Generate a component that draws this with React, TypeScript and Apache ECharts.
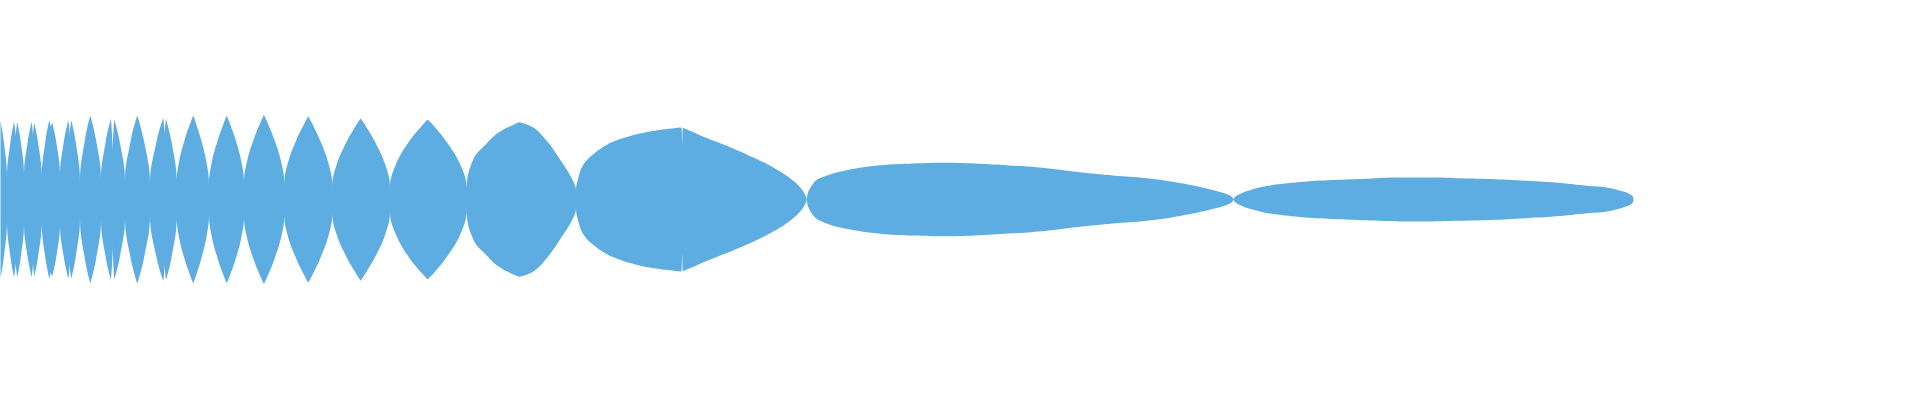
import { useEffect, useRef } from 'react';
import * as echarts from 'echarts';

const layerName = 'Flow';

// [time, value] records; several records may share one time
const headRecords: [number, number][] = [
  [0.25, 92.5], [1.875, 69.1],
  [3.5, 25.5], [3.5, 23.5], [3.5, 25.5],
  [5.25, 68.4],
  [7, 91.5], [7, 91.2], [7, 91.5],
  [7.85, 73.6], [7.85, 71.6], [7.85, 73.6],
  [8.65, 91.5], [8.65, 91.2], [8.65, 91.5],
  [10.325, 69.4],
  [12, 28.3], [12, 26.3], [12, 28.3],
  [13.925, 69.4],
  [15.85, 91.5], [15.85, 91.2], [15.85, 91.5],
  [16.5, 73.6], [16.5, 71.6], [16.5, 73.6],
  [17.15, 90.6], [17.15, 90.3], [17.15, 90.6],
  [19, 68.1],
  [20.85, 26.4], [20.85, 24.4], [20.85, 26.4],
  [22.75, 70.0],
  [24.65, 93.4], [24.65, 93.1], [24.65, 93.4],
  [25.35, 84.9], [25.35, 82.9], [25.35, 84.9],
  [26.15, 90.6], [26.15, 90.3], [26.15, 90.6],
  [28.075, 68.8],
  [30, 28.3], [30, 26.3], [30, 28.3],
  [32.075, 70.6],
  [34.15, 93.4], [34.15, 93.1], [34.15, 93.4],
  [34.85, 75.5], [34.85, 73.5], [34.85, 75.5],
  [35.65, 93.4], [35.65, 93.1], [35.65, 93.4],
  [37.825, 68.3],
  [40, 21.7], [40, 19.7], [40, 21.7],
  [42.575, 72.0],
  [45.15, 99.1], [45.15, 98.8], [45.15, 99.1],
  [47.825, 72.7],
  [50.5, 23.6], [50.5, 21.6], [50.5, 23.6],
  [53, 70.2],
  [55.5, 95.3], [55.5, 95.0], [55.5, 95.3],
  [56.35, 53.8], [56.35, 51.8], [56.35, 53.8],
  [57.15, 94.3], [57.15, 94.0], [57.15, 94.3],
  [59.825, 68.9],
  [62.5, 21.7], [62.5, 19.7], [62.5, 21.7],
  [65.575, 72.0],
  [68.65, 99.1], [68.65, 98.8], [68.65, 99.1],
  [71.825, 71.0],
  [75, 18.9], [75, 16.9], [75, 18.9],
  [78.325, 69.1],
  [81.65, 96.2], [81.65, 95.9], [81.65, 96.2],
  [82.35, 75.5], [82.35, 73.5], [82.35, 75.5],
  [83, 95.3], [83, 95.0], [83, 95.3],
  [85.675, 69.2],
  [88.35, 20.8], [88.35, 18.8], [88.35, 20.8],
];

const midRecords: [number, number][] = [
  [89.65, 45.9], [92.5, 71.7], [95.35, 91.3],
  [96.65, 99.1], [96.65, 98.8], [96.65, 99.1],
  [97.85, 90.9], [100.575, 70.4], [103.3, 43.3],
  [104.5, 17.0], [104.5, 15.0], [104.5, 17.0],
  [105.85, 43.3], [108.925, 70.4], [112, 90.9],
  [113.35, 99.1], [113.35, 98.8], [113.35, 99.1],
  [114.7, 91.2], [117.675, 71.3], [120.65, 45.2],
  [122, 19.8], [122, 17.8], [122, 19.8],
  [123.55, 45.5], [127, 71.9], [130.45, 92.0],
  [132, 100], [132, 99.7], [132, 100],
  [133.55, 91.8], [137.075, 71.3], [140.6, 44.2],
  [142.15, 17.9], [142.15, 15.9], [142.15, 17.9],
  [144, 43.6], [148.15, 70.0], [152.3, 90.1],
  [154.15, 98.1], [154.15, 97.8], [154.15, 98.1],
  [156, 89.9], [160.15, 69.3], [164.3, 42.1],
  [166.15, 15.8], [166.15, 13.8], [166.15, 15.8],
  [168.35, 41.4], [173.25, 67.9], [178.15, 87.9],
  [180.35, 95.9], [180.35, 95.6], [180.35, 95.9],
  [182.6, 87.7], [187.675, 67.3], [192.75, 40.3],
  [195, 14.2], [195, 12.2], [195, 14.2],
  [197.9, 41], [204.425, 68], [210.95, 87],
  [213.85, 94.3], [213.85, 94.0], [213.85, 94.3],
  [216.85, 87], [223.6, 67], [230.35, 40],
  [233.35, 12.5], [233.35, 10.5], [233.35, 12.5],
  [236.65, 47.2], [243.35, 66.0], [250, 80.2],
  [259.65, 91.2], [259.65, 90.9], [259.65, 91.2],
  [266.65, 84.9], [273.35, 69.2], [280, 47.2], [285.85, 25.2],
  [288, 10.4], [288, 8.4], [288, 10.4],
];

const tailRecords: [number, number][] = [
  [289.15, 25.5], [291.65, 40.9], [296.65, 53.5], [303.35, 64.4], [311.65, 72.4], [325, 80.2],
  [340.65, 84.9], [341.1, 65.1], [341.5, 84.2],
  [353.35, 72.4], [370, 56.6], [386.65, 37.7], [396.65, 22.0], [401.65, 9.4],
  [403.5, 0], [403.5, 1],
  [406.65, 18.9], [411.65, 26.7], [423.35, 34.6], [440, 40.3], [456.65, 42.5],
  [472.5, 43.4], [490, 42.2], [506.65, 39.9], [523.35, 36.8], [540, 32.1],
  [556.5, 28.3], [573.35, 25.2], [590, 19.5], [606.65, 11.0], [615, 4.7],
  [617, 0], [617, 1],
  [620, 6.6], [625, 11.0], [633.35, 15.8], [650, 20.5], [666.5, 22.9], [683.35, 24.5],
  [700, 25.8], [716.5, 25.8], [728.35, 25.2], [745, 24.2], [763.35, 22.0], [780, 19.5],
  [793.35, 16.3], [803.35, 14.2], [811.65, 9.4], [815, 6.3],
  [816.65, 2], [816.65, 0],
];

const allRecords = [...headRecords, ...midRecords, ...tailRecords];

export default function App() {
  const chartRef = useRef<HTMLDivElement>(null);

  useEffect(() => {
    if (!chartRef.current) return;
    const chart = echarts.init(chartRef.current, null, { renderer: 'svg' });

    chart.setOption({
      animation: false,
      color: ['#5dade2'],
      singleAxis: {
        type: 'value',
        min: 0,
        max: 960,
        left: 0,
        right: 0,
        top: 93.5,
        bottom: 94.5,
        axisLine: { show: false },
        axisTick: { show: false },
        axisLabel: { show: false },
        splitLine: { show: false },
        splitArea: { show: false },
      },
      series: [
        {
          type: 'themeRiver',
          label: { show: false },
          emphasis: { disabled: true },
          data: allRecords.map(([t, v]) => [t, v, layerName]),
        },
      ],
    });

    return () => chart.dispose();
  }, []);

  return (
    <div
      ref={chartRef}
      style={{ position: 'absolute', left: 0, top: 0, width: 1920, height: 400 }}
    />
  );
}
